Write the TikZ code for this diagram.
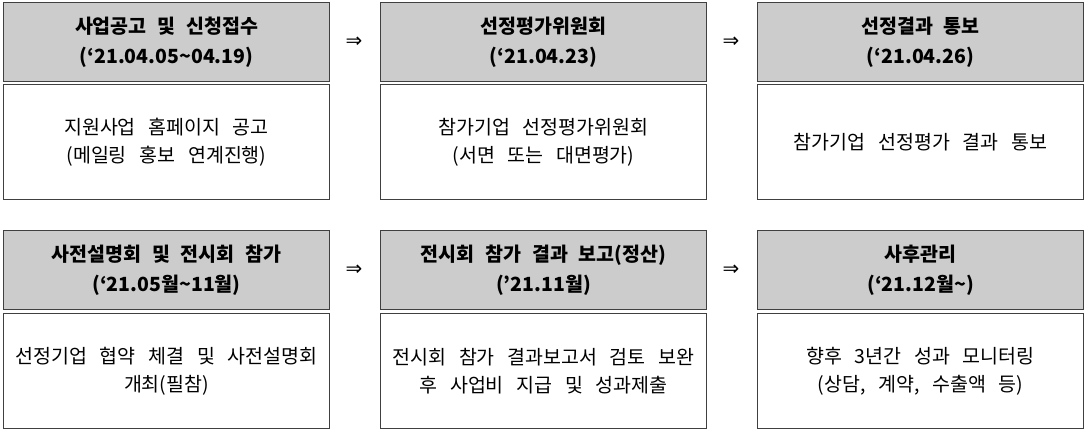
\documentclass[tikz,border=0pt]{standalone}
\usepackage{fontspec}
\setmainfont{Noto Sans CJK KR}
\newfontfamily\symfont{DejaVu Sans}
\newcommand\myhdrfont{\fontsize{19.5}{30}\selectfont\bfseries\spaceskip 0.55em\relax}
\newcommand\mybodyfont{\fontsize{19.5}{28}\selectfont\spaceskip 0.65em\relax}
\begin{document}
\begin{tikzpicture}[x=1pt,y=-1pt,
  hdr/.style={draw=black!75,line width=1pt,fill=black!20,minimum width=326pt,minimum height=79pt,anchor=north west,inner sep=0pt,align=center,font=\myhdrfont},
  bodybox/.style={draw=black!75,line width=1pt,fill=white,minimum width=326pt,minimum height=115pt,anchor=north west,inner sep=0pt,align=center,font=\mybodyfont},
  arr/.style={font=\symfont\fontsize{20}{20}\selectfont,inner sep=0pt}]
\useasboundingbox (0,0) rectangle (1087,431);
% row 1
\node[bodybox] (b1) at (3,84) {지원사업 홈페이지 공고\\(메일링 홍보 연계진행)};
\node[hdr] (h1) at (3,2) {사업공고 및 신청접수\\(‘21.04.05\textasciitilde 04.19)};
\node[bodybox] (b2) at (380,84) {참가기업 선정평가위원회\\(서면 또는 대면평가)};
\node[hdr] (h2) at (380,2) {선정평가위원회\\(‘21.04.23)};
\node[bodybox] (b3) at (757,84) {참가기업 선정평가 결과 통보};
\node[hdr] (h3) at (757,2) {선정결과 통보\\(‘21.04.26)};
% row 2
\node[bodybox] (b4) at (3,313) {선정기업 협약 체결 및 사전설명회\\개최(필참)};
\node[hdr] (h4) at (3,230) {사전설명회 및 전시회 참가\\(‘21.05월\textasciitilde 11월)};
\node[bodybox] (b5) at (380,313) {전시회 참가 결과보고서 검토 보완\\후 사업비 지급 및 성과제출};
\node[hdr] (h5) at (380,230) {전시회 참가 결과 보고(정산)\\(’21.11월)};
\node[bodybox] (b6) at (757,313) {향후 3년간 성과 모니터링\\(상담, 계약, 수출액 등)};
\node[hdr] (h6) at (757,230) {사후관리\\(‘21.12월\textasciitilde)};
% arrows
\node[arr] (a1) at (354,42) {⇒};
\node[arr] (a2) at (731,42) {⇒};
\node[arr] (a3) at (354,270) {⇒};
\node[arr] (a4) at (731,270) {⇒};
\end{tikzpicture}
\end{document}
